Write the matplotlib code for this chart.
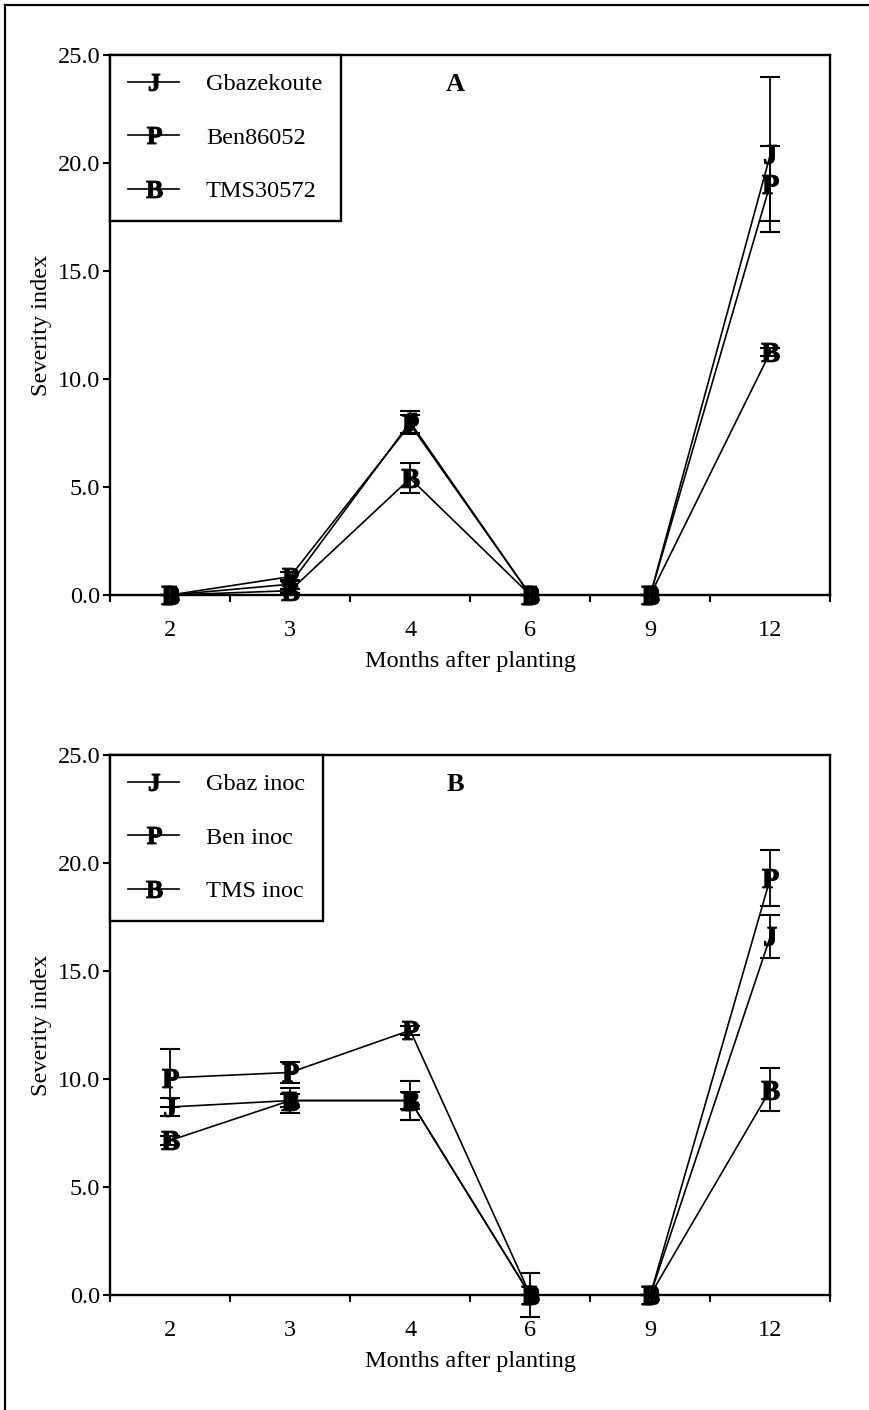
import numpy as np
import matplotlib
matplotlib.use("Agg")
import matplotlib.pyplot as plt
from matplotlib.lines import Line2D
from matplotlib.ticker import FixedLocator, NullFormatter

plt.rcParams['font.family'] = ['Liberation Serif', 'DejaVu Serif']
plt.rcParams['mathtext.fontset'] = 'custom'
plt.rcParams['mathtext.bf'] = 'Liberation Serif:bold'
plt.rcParams['mathtext.rm'] = 'Liberation Serif'

months = ['2', '3', '4', '6', '9', '12']
markers = ['J', 'P', 'B']

# panel A: uninoculated
labels_a = ['Gbazekoute', 'Ben86052', 'TMS30572']
gbaz_a = [0.0, 0.5, 8.0, 0.0, 0.0, 20.4]
gbaz_a_err = [0.0, 0.2, 0.5, 0.0, 0.0, 3.6]
ben_a = [0.0, 0.85, 7.9, 0.0, 0.0, 19.05]
ben_a_err = [0.0, 0.2, 0.45, 0.0, 0.0, 1.75]
tms_a = [0.0, 0.2, 5.4, 0.0, 0.0, 11.25]
tms_a_err = [0.0, 0.1, 0.7, 0.0, 0.0, 0.2]

# panel B: inoculated
labels_b = ['Gbaz inoc', 'Ben inoc', 'TMS inoc']
gbaz_b = [8.7, 9.0, 9.0, 0.0, 0.0, 16.6]
gbaz_b_err = [0.4, 0.3, 0.9, 1.0, 0.0, 1.0]
ben_b = [10.05, 10.3, 12.25, 0.0, 0.0, 19.3]
ben_b_err = [1.35, 0.5, 0.2, 0.0, 0.0, 1.3]
tms_b = [7.15, 9.0, 9.0, 0.0, 0.0, 9.5]
tms_b_err = [0.2, 0.6, 0.4, 0.0, 0.0, 1.0]

FS = 17.5


def draw_panel(ax, series, errs, labels, letter):
    x = np.arange(len(months))
    handles = []
    for ys, es, lab, mk in zip(series, errs, labels, markers):
        eb = ax.errorbar(x, ys, yerr=es, fmt='none', ecolor='black',
                         elinewidth=1.3, capsize=7.5, capthick=1.5, zorder=2)
        for art in eb.lines[1] + eb.lines[2]:
            art.set_clip_on(False)
        h, = ax.plot(x, ys, color='black', lw=1.2,
                     marker=r'$\mathbf{%s}$' % mk, markersize=13.5,
                     markerfacecolor='black', markeredgecolor='black',
                     markeredgewidth=0.7, label=lab, zorder=3, clip_on=False)
        handles.append(h)
    ax.set_xlim(-0.5, len(months) - 0.5)
    ax.set_ylim(0, 25)
    ax.set_yticks([0, 5, 10, 15, 20, 25])
    ax.set_yticklabels(['%.1f' % v for v in [0, 5, 10, 15, 20, 25]])
    ax.set_xticks(x)
    ax.set_xticklabels(months)
    ax.xaxis.set_minor_locator(FixedLocator(np.arange(-0.5, len(months), 1.0)))
    ax.xaxis.set_minor_formatter(NullFormatter())
    ax.tick_params(axis='x', which='major', length=0, labelsize=FS, pad=18)
    ax.tick_params(axis='x', which='minor', length=5, width=1.5, direction='out')
    ax.tick_params(axis='y', length=5, width=1.5, direction='out',
                   labelsize=FS, pad=2)
    for s in ax.spines.values():
        s.set_linewidth(1.7)
    ax.set_xlabel('Months after planting', fontsize=FS, labelpad=7)
    ax.set_ylabel('Severity index', fontsize=FS, labelpad=4)
    leg = ax.legend(handles=handles, loc='upper left', bbox_to_anchor=(0, 1),
                    borderaxespad=0, fancybox=False, edgecolor='black',
                    framealpha=1, fontsize=FS, labelspacing=1.3,
                    handlelength=2.1, handletextpad=1.1, borderpad=0.75,
                    markerscale=0.9)
    leg.get_frame().set_linewidth(1.7)
    leg.set_zorder(5)
    ax.text(0.48, 0.945, letter, transform=ax.transAxes, fontsize=19,
            fontweight='bold', ha='center', va='center')


fig = plt.figure(figsize=(8.69, 14.1), dpi=100)
ax1 = fig.add_axes([0.1266, 0.578, 0.829, 0.383])
ax2 = fig.add_axes([0.1266, 0.0816, 0.829, 0.383])

draw_panel(ax1, [gbaz_a, ben_a, tms_a], [gbaz_a_err, ben_a_err, tms_a_err],
           labels_a, 'A')
draw_panel(ax2, [gbaz_b, ben_b, tms_b], [gbaz_b_err, ben_b_err, tms_b_err],
           labels_b, 'B')

# outer frame (top and left edge)
fig.add_artist(Line2D([0.006, 1.0], [0.9965, 0.9965], color='black', lw=1.6))
fig.add_artist(Line2D([0.006, 0.006], [0.0, 0.9965], color='black', lw=1.6))

fig.savefig('out.png', dpi=100)
